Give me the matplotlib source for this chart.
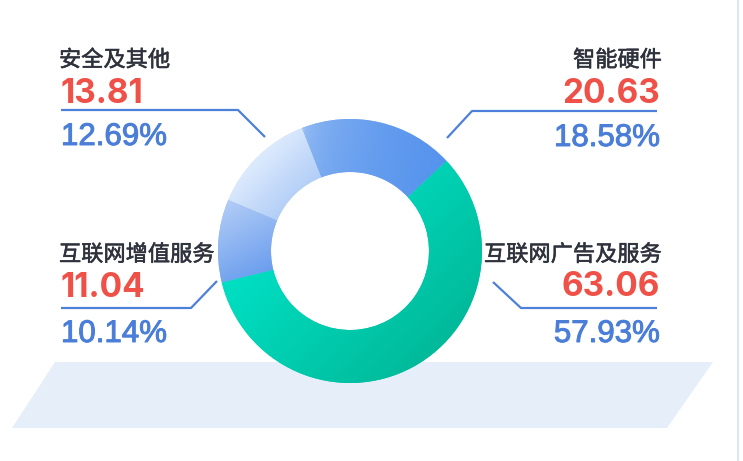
import numpy as np
import matplotlib
matplotlib.use('Agg')
import matplotlib.pyplot as plt
import matplotlib.patheffects as pe
from matplotlib.patches import Polygon
from matplotlib.colors import to_rgb

# ---- data ----
categories = ['智能硬件', '安全及其他', '互联网增值服务', '互联网广告及服务']
amounts = [20.63, 13.81, 11.04, 63.06]
shares = [18.58, 12.69, 10.14, 57.93]

# ---- style ----
grad_colors = [('#b3cff6', '#5593ed'),
               ('#deebfd', '#b1cdf7'),
               ('#b3cdf6', '#6a9eee'),
               ('#00e0c4', '#00ba9a')]
grad_dirs = [(1.0, 0.2), (1.0, 1.0), (0.5, 1.0), (1.0, 1.0)]  # screen dirs (x right, y down)
grad_gamma = [0.3, 1.0, 1.0, 1.0]

W, H = 743, 461
fig = plt.figure(figsize=(W / 100, H / 100), dpi=100)
ax = fig.add_axes([0, 0, 1, 1])


def Y(y):
    return H - y


# background band
band = Polygon([(55, Y(362)), (713, Y(362)), (667, Y(428)), (12, Y(428))],
               closed=True, facecolor='#e6eefa', edgecolor='none', zorder=1)
ax.add_patch(band)
ax.plot([738, 738], [0, H], color='#dbe7f8', lw=1.5, zorder=1)

cx, cy = 350, Y(251)
R, ring_w = 132, 53
mean_cols = [tuple((np.array(to_rgb(a)) + np.array(to_rgb(b))) / 2) for a, b in grad_colors]
wedges, _ = ax.pie(amounts, startangle=43, counterclock=True, center=(cx, cy),
                   radius=R, colors=mean_cols,
                   wedgeprops=dict(width=ring_w, linewidth=0, edgecolor='none'))
for w in wedges:
    w.set_zorder(2)

n = 500
xs = np.linspace(cx - R, cx + R, n)
ys = np.linspace(cy - R, cy + R, n)
XX, YY = np.meshgrid(xs, ys)
for w, (c0, c1), (dx, dy), g in zip(wedges, grad_colors, grad_dirs, grad_gamma):
    ux, uy = dx, -dy
    nn = np.hypot(ux, uy)
    ux, uy = ux / nn, uy / nn
    th = np.radians(np.linspace(w.theta1, w.theta2, 80))
    pr = []
    for r in (R - ring_w, R):
        pr.append(r * np.cos(th) * ux + r * np.sin(th) * uy)
    pr = np.concatenate(pr)
    pmin, pmax = pr.min(), pr.max()
    proj = (XX - cx) * ux + (YY - cy) * uy
    t = np.clip((proj - pmin) / (pmax - pmin), 0, 1) ** g
    t = t[..., None]
    img = np.array(to_rgb(c0)) * (1 - t) + np.array(to_rgb(c1)) * t
    im = ax.imshow(img, origin='lower', extent=[cx - R, cx + R, cy - R, cy + R],
                   interpolation='bilinear', zorder=3)
    im.set_clip_path(w)

# leader lines
line_col = '#4d80db'
leaders = [
    [(657, 111), (472, 111), (447, 138)],
    [(61, 110), (238, 110), (265, 137)],
    [(61, 308), (191, 308), (217, 281)],
    [(657, 308), (521, 308), (493, 282)],
]
for pts in leaders:
    ax.plot([p[0] for p in pts], [Y(p[1]) for p in pts], color=line_col, lw=1.6,
            solid_capstyle='butt', zorder=4)

# labels: (x, ha, label baseline, number baseline, pct baseline)
label_pos = [
    (662, 'right', 66.5, 103, 146),
    (59, 'left', 66.5, 103, 145),
    (59, 'left', 261, 297, 342),
    (662, 'right', 261, 296, 342),
]
cjk = ['Noto Sans CJK SC', 'DejaVu Sans']
pct_col = '#4a7ed8'
lab_col = '#2e323c'
for cat, amt, sh, (x, ha, yl, yn, yp) in zip(categories, amounts, shares, label_pos):
    ax.text(x, Y(yl), cat, ha=ha, va='baseline', fontsize=16, color=lab_col,
            family=cjk, zorder=5,
            path_effects=[pe.withStroke(linewidth=0.4, foreground=lab_col)])
    ax.text(x - (2 if ha == 'right' else -1), Y(yn), f'{amt:.2f}', ha=ha, va='baseline',
            fontsize=24, color='#ef5047', family='Inter', fontweight='bold', zorder=5)
    ax.text(x - (2 if ha == 'right' else -2), Y(yp), f'{sh:.2f}%', ha=ha, va='baseline',
            fontsize=22.5, color=pct_col, family='Liberation Sans', zorder=5,
            path_effects=[pe.withStroke(linewidth=0.7, foreground=pct_col)])

ax.set_xlim(0, W)
ax.set_ylim(0, H)
ax.set_aspect('auto')
ax.axis('off')
fig.savefig('out.png', dpi=100)
